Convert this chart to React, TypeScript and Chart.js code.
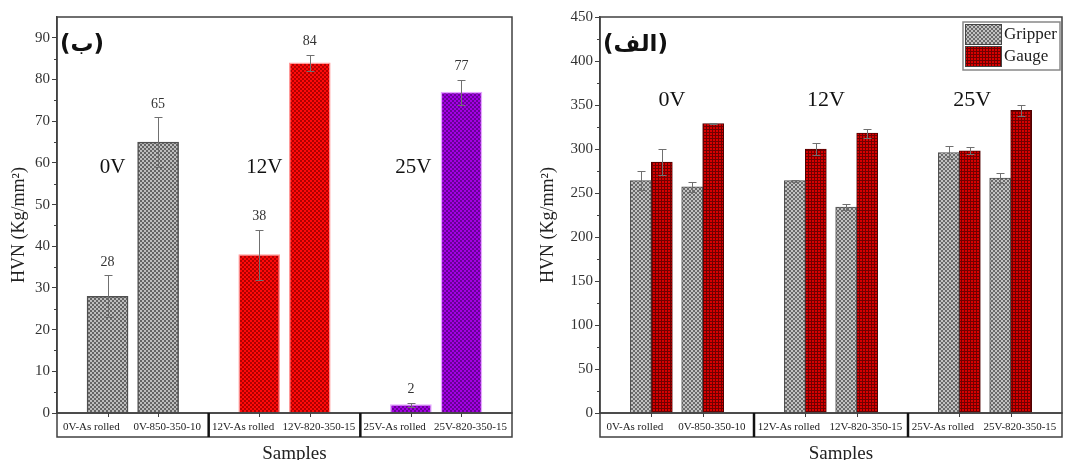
import React, { useEffect, useRef } from 'react';
import { Chart, registerables } from 'chart.js';
Chart.register(...registerables);

const SAMPLE_LABELS = ['0V-As rolled', '0V-850-350-10', '12V-As rolled', '12V-820-350-15', '25V-As rolled', '25V-820-350-15'];
const GROUP_LABELS = ['0V', '12V', '25V'];
const LEFT_VALUES = [28, 65, 38, 84, 2, 77];
const LEFT_ERRORS = [5, 6, 6, 2, 0.5, 3];
const GRIPPER_VALUES = [264, 257, 264, 234, 296, 267];
const GRIPPER_ERRORS = [11, 6, 1, 3, 7, 6];
const GAUGE_VALUES = [285, 329, 300, 318, 298, 344];
const GAUGE_ERRORS = [15, 1, 7, 5, 4, 6];
const SERIES_NAMES = ['Gripper', 'Gauge'];
const LEFT_Y_MAX = 95;
const LEFT_Y_STEP = 10;
const RIGHT_Y_MAX = 450;
const RIGHT_Y_STEP = 50;

const SERIF = '"Liberation Serif", "Times New Roman", serif';
const slotOf = (i: number) => Math.floor(i / 2) * 3 + (i % 2) + 1;

function makePattern(size: number, draw: (c: CanvasRenderingContext2D) => void): CanvasPattern {
  const cv = document.createElement('canvas');
  cv.width = size;
  cv.height = size;
  const c = cv.getContext('2d')!;
  draw(c);
  return c.createPattern(cv, 'repeat')!;
}
const checker = (base: string, dark: string) =>
  makePattern(4, (c) => {
    c.fillStyle = base;
    c.fillRect(0, 0, 4, 4);
    c.fillStyle = dark;
    c.fillRect(0, 0, 2, 2);
    c.fillRect(2, 2, 2, 2);
  });
const grid = (base: string, dark: string) =>
  makePattern(3, (c) => {
    c.fillStyle = base;
    c.fillRect(0, 0, 3, 3);
    c.fillStyle = dark;
    c.fillRect(0, 0, 3, 1);
    c.fillRect(0, 0, 1, 3);
  });

const decorPlugin = {
  id: 'decor',
  afterDraw(chart: any, _args: any, opts: any) {
    const { ctx, chartArea: a } = chart;
    const xs = chart.scales.x;
    const ys = chart.scales.y;
    ctx.save();
    // frame
    ctx.strokeStyle = '#404040';
    ctx.lineWidth = 1.5;
    ctx.strokeRect(a.left, a.top, a.right - a.left, a.bottom - a.top);
    // minor y ticks
    ctx.lineWidth = 1;
    for (let v = opts.step / 2; v < opts.max; v += opts.step) {
      const y = Math.round(ys.getPixelForValue(v)) + 0.5;
      ctx.beginPath();
      ctx.moveTo(a.left - 3, y);
      ctx.lineTo(a.left, y);
      ctx.stroke();
    }
    // sample box
    const boxB = a.bottom + 24;
    ctx.lineWidth = 1.5;
    ctx.strokeRect(a.left, a.bottom, a.right - a.left, boxB - a.bottom);
    ctx.strokeStyle = '#111';
    ctx.lineWidth = 2.5;
    [3, 6].forEach((s) => {
      const x = xs.getPixelForValue(s);
      ctx.beginPath();
      ctx.moveTo(x, a.bottom);
      ctx.lineTo(x, boxB);
      ctx.stroke();
    });
    ctx.strokeStyle = '#404040';
    ctx.lineWidth = 1;
    SAMPLE_LABELS.forEach((_, i) => {
      const x = Math.round(xs.getPixelForValue(slotOf(i))) + 0.5;
      ctx.beginPath();
      ctx.moveTo(x, a.bottom);
      ctx.lineTo(x, a.bottom + 4);
      ctx.stroke();
    });
    ctx.fillStyle = '#222';
    ctx.font = `11px ${SERIF}`;
    ctx.textAlign = 'center';
    ctx.textBaseline = 'middle';
    SAMPLE_LABELS.forEach((lab, i) => {
      const s = Math.floor(i / 2) * 3 + (i % 2 === 0 ? 0.68 : 2.18);
      ctx.fillText(lab, xs.getPixelForValue(s), a.bottom + 14);
    });
    // axis titles
    ctx.font = `19px ${SERIF}`;
    ctx.textBaseline = 'alphabetic';
    ctx.fillText('Samples', (a.left + a.right) / 2 + 10, 459);
    ctx.save();
    ctx.translate(opts.yTitleX, 225);
    ctx.rotate(-Math.PI / 2);
    ctx.font = `18px ${SERIF}`;
    ctx.textBaseline = 'middle';
    ctx.fillText('HVN (Kg/mm²)', 0, 0);
    ctx.restore();
    // error bars
    ctx.strokeStyle = '#707070';
    ctx.lineWidth = 1;
    chart.data.datasets.forEach((ds: any, d: number) => {
      const meta = chart.getDatasetMeta(d);
      meta.data.forEach((el: any, i: number) => {
        const v = ds.data[i].y;
        const e = ds.errors[i];
        const x = Math.round(el.x) + 0.5;
        const yt = Math.round(ys.getPixelForValue(v + e)) + 0.5;
        const yb = Math.round(ys.getPixelForValue(v - e)) + 0.5;
        ctx.beginPath();
        ctx.moveTo(x, yt);
        ctx.lineTo(x, yb);
        ctx.moveTo(x - 4, yt);
        ctx.lineTo(x + 4, yt);
        ctx.moveTo(x - 4, yb);
        ctx.lineTo(x + 4, yb);
        ctx.stroke();
        if (opts.valueLabels) {
          ctx.fillStyle = '#333';
          ctx.font = `14px ${SERIF}`;
          ctx.textAlign = 'center';
          ctx.textBaseline = 'middle';
          ctx.fillText(String(v), el.x, ys.getPixelForValue(v + e) - 13);
        }
      });
    });
    // group labels
    ctx.fillStyle = '#111';
    ctx.font = `${opts.groupFont}px ${SERIF}`;
    ctx.textAlign = 'center';
    ctx.textBaseline = 'middle';
    GROUP_LABELS.forEach((g, i) => {
      ctx.fillText(g, xs.getPixelForValue(opts.groupX[i]), ys.getPixelForValue(opts.groupY));
    });
    // panel label
    ctx.font = `bold 23px "DejaVu Sans", "Noto Sans", sans-serif`;
    ctx.textAlign = 'left';
    ctx.fillText(opts.panelLabel, a.left + 3, 45);
    // legend
    if (opts.legend) {
      const lx = a.right - 99;
      const ly = 22;
      ctx.fillStyle = '#fff';
      ctx.fillRect(lx, ly, 97, 48);
      ctx.strokeStyle = '#888';
      ctx.lineWidth = 1.5;
      ctx.strokeRect(lx, ly, 97, 48);
      chart.data.datasets.forEach((ds: any, d: number) => {
        const ry = ly + 2 + d * 22;
        ctx.fillStyle = ds.backgroundColor;
        ctx.fillRect(lx + 2, ry, 37, 21);
        ctx.strokeStyle = '#444';
        ctx.lineWidth = 1;
        ctx.strokeRect(lx + 2.5, ry + 0.5, 36, 20);
        ctx.fillStyle = '#222';
        ctx.font = `17px ${SERIF}`;
        ctx.textBaseline = 'middle';
        ctx.fillText(ds.label, lx + 41, ry + 11);
      });
    }
    ctx.restore();
  },
};

function yScale(max: number, step: number, width: number) {
  return {
    min: 0,
    max,
    afterFit: (s: any) => {
      s.width = width;
    },
    ticks: {
      stepSize: step,
      includeBounds: false,
      padding: 2,
      color: '#333',
      font: { family: SERIF, size: 15 },
    },
    grid: { display: true, drawOnChartArea: false, drawTicks: true, tickLength: 5, color: '#404040' },
    border: { display: true, color: '#404040', width: 1.5 },
  };
}

const xScale = { type: 'linear', min: 0, max: 9, offset: false, display: false };

export default function App() {
  const leftRef = useRef<HTMLCanvasElement>(null);
  const rightRef = useRef<HTMLCanvasElement>(null);

  useEffect(() => {
    const gray = checker('#bdbdbd', '#646464');
    const red = checker('#ff0a0a', '#b00000');
    const purple = checker('#a400e4', '#680096');
    const redGrid = grid('#d80000', '#700000');
    const grayR = checker('#c2c2c2', '#6a6a6a');

    const left = new Chart(leftRef.current!, {
      type: 'bar',
      data: {
        datasets: [
          {
            label: 'HVN',
            data: LEFT_VALUES.map((v, i) => ({ x: slotOf(i), y: v })),
            errors: LEFT_ERRORS,
            backgroundColor: [gray, gray, red, red, purple, purple],
            borderColor: ['#505050', '#505050', '#ff9a9a', '#ff9a9a', '#e4a6ff', '#e4a6ff'],
            borderWidth: 1.5,
            barThickness: 41,
          } as any,
        ],
      },
      options: {
        responsive: false,
        animation: false,
        layout: { padding: { top: 17, right: 23, bottom: 47, left: 0 } },
        scales: { x: xScale as any, y: yScale(LEFT_Y_MAX, LEFT_Y_STEP, 57) as any },
        plugins: {
          legend: { display: false },
          tooltip: { enabled: false },
          decor: {
            max: LEFT_Y_MAX,
            step: LEFT_Y_STEP,
            yTitleX: 19,
            valueLabels: true,
            groupX: [1.1, 4.1, 7.05],
            groupY: 59,
            groupFont: 21,
            panelLabel: '(ب)',
            legend: false,
          },
        } as any,
      },
      plugins: [decorPlugin],
    });

    const right = new Chart(rightRef.current!, {
      type: 'bar',
      data: {
        datasets: [
          {
            label: SERIES_NAMES[0],
            data: GRIPPER_VALUES.map((v, i) => ({ x: slotOf(i), y: v })),
            errors: GRIPPER_ERRORS,
            backgroundColor: grayR,
            borderColor: '#505050',
            borderWidth: 1,
            barThickness: 21,
          } as any,
          {
            label: SERIES_NAMES[1],
            data: GAUGE_VALUES.map((v, i) => ({ x: slotOf(i), y: v })),
            errors: GAUGE_ERRORS,
            backgroundColor: redGrid,
            borderColor: '#500000',
            borderWidth: 1,
            barThickness: 21,
          } as any,
        ],
      },
      options: {
        responsive: false,
        animation: false,
        layout: { padding: { top: 17, right: 7, bottom: 47, left: 0 } },
        scales: { x: xScale as any, y: yScale(RIGHT_Y_MAX, RIGHT_Y_STEP, 65) as any },
        plugins: {
          legend: { display: false },
          tooltip: { enabled: false },
          decor: {
            max: RIGHT_Y_MAX,
            step: RIGHT_Y_STEP,
            yTitleX: 13,
            valueLabels: false,
            groupX: [1.4, 4.4, 7.25],
            groupY: 356,
            groupFont: 22,
            panelLabel: '(الف)',
            legend: true,
          },
        } as any,
      },
      plugins: [decorPlugin],
    });

    return () => {
      left.destroy();
      right.destroy();
    };
  }, []);

  return (
    <div style={{ position: 'absolute', left: 0, top: 0, width: 1069, height: 460, background: '#fff', overflow: 'hidden' }}>
      <canvas ref={leftRef} width={535} height={460} style={{ position: 'absolute', left: 0, top: 0 }} />
      <canvas ref={rightRef} width={534} height={460} style={{ position: 'absolute', left: 535, top: 0 }} />
    </div>
  );
}
